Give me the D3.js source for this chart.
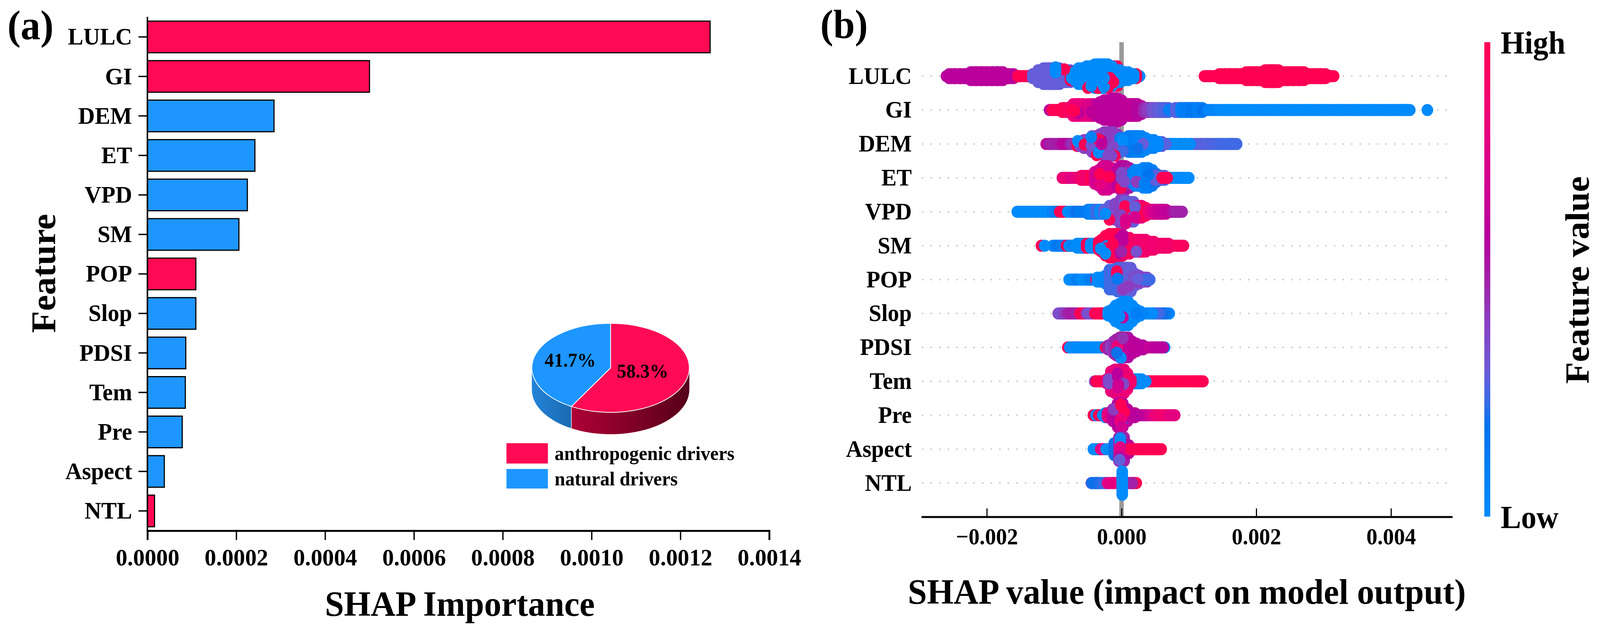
<!DOCTYPE html>
<html>
<head>
<meta charset="utf-8">
<script src="https://cdn.jsdelivr.net/npm/d3@7/dist/d3.min.js"></script>
<style>
html,body{margin:0;padding:0;background:#fff;width:100%;height:100%;overflow:hidden;}
#chart{width:100vw;height:100vh;}
svg{display:block;width:100%;height:100%;}
text{font-family:"Liberation Serif",serif;font-weight:700;fill:#000;}
</style>
</head>
<body>
<div id="chart"></div>
<script>
// ---------- DATA ----------
const features = ["LULC","GI","DEM","ET","VPD","SM","POP","Slop","PDSI","Tem","Pre","Aspect","NTL"];
const importance = [0.001267,0.0005,0.000285,0.000242,0.000225,0.000206,0.000109,0.000109,0.0000864,0.0000853,0.0000784,0.000038,0.000016];
const driverType = ["anthropogenic","anthropogenic","natural","natural","natural","natural","anthropogenic","natural","natural","natural","natural","natural","anthropogenic"];
const importanceTicks = [0,0.0002,0.0004,0.0006,0.0008,0.001,0.0012,0.0014];
const shapTicks = [-0.002,0,0.002,0.004];
const pieNames = ["anthropogenic drivers","natural drivers"];
const pieShares = [58.3,41.7];
const colorStops = [0,0.186,0.246,0.312,0.41,0.478,0.596,0.709,0.84,1];
const colorValues = ["#008bfb","#0073ee","#3c6ae6","#6e5ad6","#8a3fc2","#9c28ac","#b8009c","#d30090","#ec0078","#ff0054"];

// Beeswarm columns: [SHAP value, dots stacked either side of the row, feature value]
const swarmLULC = [[-.00256,0,.6],[-.00252,1,.6],[-.00244,1,.6],[-.00236,1,.6],[-.00228,1,.6],[-.0022,2,.6],[-.00212,2,.6],[-.00204,2,.6],[-.00196,2,.6],[-.00188,2,.6],[-.0018,2,.6],[-.00172,1,.6],[-.00164,1,.6],[-.00156,0,.6],[-.0015,0,1],[-.00135,0,.62],[-.00139,0,1],[-.00128,1,.3],[-.0012,3,.3],[-.00112,4,.3],[-.00104,4,.3],[-.00096,4,.3],[-.00088,3,.3],[-.0008,3,.3],[-.00072,2,1],[-.00068,2,1],[-.00015,5,1],[-.0001,5,1],[-.0007,1,0],[-.00066,2,0],[-.0006,4,0],[-.00054,4,0],[-.00048,5,0],[-.00042,5,0],[-.00036,6,0],[-.0003,6,0],[-.00024,6,0],[-.00018,5,0],[.00023,0,0],[.00018,1,1],[.00014,1,0],[.00006,2,0],[0,2,0],[-.00006,3,0],[-.00012,3,0],[.00311,0,1],[.00307,0,1],[.00299,1,1],[.00291,1,1],[.00283,1,1],[.00275,1,1],[.00267,2,1],[.00259,2,1],[.00251,2,1],[.00243,2,1],[.00235,2,1],[.00229,3,1],[.00223,3,1],[.00217,3,1],[.00211,2,1],[.00205,2,1],[.00197,2,1],[.00189,2,1],[.00181,1,1],[.00173,1,1],[.00165,1,1],[.00157,1,1],[.00149,1,1],[.00141,0,1],[.00133,0,1],[.00127,0,1]];
const dotsLULC = [[-.00085,-3.5,1],[-.00098,-4.5,0],[-.00098,-3.3,0],[-.00098,-2,0],[-.00022,2.5,1],[-.00012,3,1],[-.0005,6,1],[-.00035,6,1],[-.0002,6,1],[-.00045,5,0],[-.00026,5.5,0],[-.0003,3,0],[-.00033,-1,0],[-.00027,-5,0],[-.00035,-3,0],[-.00017,1,1],[-.00026,1,0]];
const swarmGI = [[-.00103,0,.6],[-.00099,0,1],[-.00092,0,1],[-.00084,1,1],[-.00076,1,.95],[-.00068,3,.85],[-.0006,3,.82],[-.00052,2,.85],[-.00046,3,.78],[-.0004,1,.85],[-.00034,3,.6],[-.00028,4,.6],[-.00022,5,.6],[-.00016,5,.6],[-.0001,6,.6],[-.00004,5,.6],[.00002,2,.6],[.00008,3,.62],[.00014,3,.62],[.0002,3,.62],[.00026,2,.58],[.00037,1,.48],[.00042,1,.42],[.0005,1,.33],[.00058,1,.3],[.00066,1,.27],[.00074,0,.1],[.00084,1,.28],[.00092,1,.1],[.001,1,.12],[.00108,1,.15],[.00116,1,.1],[.00124,0,.186],[.00132,0,.05],[.0014,0,.05],[.00424,0,0],[.0042,0,0],[.00412,0,0],[.00404,0,0],[.00396,0,0],[.00388,0,0],[.0038,0,0],[.00372,0,0],[.00364,0,0],[.00356,0,0],[.00348,0,0],[.0034,0,0],[.00332,0,0],[.00324,0,0],[.00316,0,0],[.00308,0,0],[.003,0,0],[.00292,0,0],[.00284,0,0],[.00276,0,0],[.00268,0,0],[.0026,0,0],[.00252,0,0],[.00244,0,0],[.00236,0,0],[.00228,0,0],[.0022,0,0],[.00212,0,0],[.00204,0,0],[.00196,0,0],[.00188,0,0],[.0018,0,0],[.00172,0,0],[.00164,0,0],[.00156,0,0],[.0015,0,0]];
const dotsGI = [[-.00052,-2,.75],[-.00064,1.5,.62],[-.00045,1,.62],[-.0007,.5,1],[-.00074,0,1],[.00454,0,0]];
const swarmDEM = [[-.00108,0,.62],[-.00104,0,.52],[-.00096,0,.5],[-.0009,0,.52],[-.00084,0,.6],[-.00078,0,.58],[-.00072,0,.48],[-.00068,0,.45],[-.00062,1,1],[-.00058,1,.4],[-.00052,2,.4],[-.00046,2,.4],[-.0004,4,.4],[-.00034,4,.4],[-.00028,5,.4],[-.00022,6,.42],[-.00016,6,.42],[-.0001,5,.42],[-.00005,3,.4],[.00002,3,.12],[.00008,3,.1],[.00014,4,.1],[.0002,4,.1],[.00026,4,.08],[.00032,3,.05],[.00038,2,.08],[.00044,2,.05],[.00167,0,.25],[.00163,0,.25],[.00155,0,.25],[.00147,0,.25],[.00139,0,.25],[.00131,0,.26],[.00123,0,.27],[.00115,0,.28],[.00107,0,.28],[.00098,0,0],[.0009,0,0],[.00082,0,0],[.00074,0,0],[.00068,0,0],[.00062,0,.28],[.00056,1,.28],[.0005,1,.03]];
const dotsDEM = [[-.00065,-1.5,0],[-.00055,.3,1],[-.00045,.7,.33],[-.00022,-2.3,.42],[-.0003,-1.7,.62],[-.00034,-2.3,1],[-.00012,1.7,.38],[.00002,-1.7,0],[-.00037,5.7,1],[-.00034,4.3,0],[-.0003,0,.62],[.00032,0,.3],[.00024,2.3,.2],[.0001,3.7,.15],[.00002,3.7,.25],[-.0002,6,.38],[-.0001,6,1],[-.00015,6,.38],[-.00045,-3.5,.08]];
const swarmET = [[-.00084,0,.85],[-.0008,0,.85],[-.00072,0,.78],[-.00064,0,.82],[-.00056,1,.9],[-.00048,1,.88],[-.00042,1,1],[-.00036,3,.72],[-.0003,4,.72],[-.00024,6,.72],[-.00018,5,.72],[-.00012,4,.72],[-.00003,4,.62],[.00002,6,.6],[.00008,5,.55],[.00013,3,.45],[.00018,2,.1],[.00024,4,.05],[.0003,4,.05],[.00036,5,.05],[.00042,4,.1],[.00048,2,.2],[.00054,1,.3],[.0006,1,.28],[.00092,0,.3],[.00086,0,.05],[.00078,0,0],[.0007,0,0],[.00096,0,0],[.00064,0,1]];
const dotsET = [[-.00031,2.9,.8],[-.00032,-2,1],[-.00001,5.2,1],[0,.2,.38],[0,-2.5,.38],[.00004,1.9,.38],[.00022,2,.42],[.0004,-1.5,.18],[.00034,2.9,.1],[-.00018,-.5,1]];
const swarmVPD = [[-.00151,0,0],[-.00147,0,0],[-.00139,0,0],[-.00131,0,0],[-.00123,0,0],[-.00115,0,0],[-.00107,0,0],[-.00099,0,.08],[-.00091,0,.12],[-.00088,0,1],[-.00076,0,0],[-.0007,0,.05],[-.00064,0,.2],[-.00058,0,.12],[-.00052,0,.15],[-.00046,1,.1],[-.0004,1,.05],[-.00034,1,.25],[-.00028,1,0],[-.00022,1,.3],[-.00014,3,.3],[-.00006,4,.38],[.00002,6,.4],[.00008,5,.32],[.00014,5,.3],[.0002,3,.3],[.00026,3,.8],[.00032,2,.95],[.00038,1,1],[.00044,1,.85],[.0005,1,.75],[.00056,1,.68],[.00062,1,.66],[.00068,0,.64],[.00074,0,.62],[.0008,0,.55],[.00086,0,.48],[.00084,0,.5]];
const dotsVPD = [[.00005,-2.8,1],[.00005,-1.5,1],[.0002,-2.5,.3],[-.00001,1.8,.4],[.0002,2.8,.72],[.00006,6,.75],[.00006,4,.75],[-.00018,4,1],[-.00024,1,0]];
const swarmSM = [[-.00098,0,.05],[-.00092,0,.15],[-.00086,0,.12],[-.0008,0,.1],[-.00078,0,1],[-.00074,0,0],[-.00068,0,.05],[-.00062,1,0],[-.00056,1,0],[-.00048,1,1],[-.00042,1,0],[-.00036,1,0],[-.0003,2,1],[-.00026,3,1],[-.0002,5,1],[-.00014,6,1],[-.00008,6,1],[-.00002,5,1],[.00002,4,.62],[.00008,4,.9],[.00014,3,1],[.0002,3,.95],[.00026,3,.9],[.00032,3,.9],[.00038,2,.88],[.00044,2,.9],[.0005,1,.88],[.00058,1,.88],[.00066,1,.9],[.00074,0,.9],[.00082,0,.9],[.00088,0,.95]];
const dotsSM = [[-.00119,0,1],[-.00114,0,0],[-.00022,.2,0],[-.00024,1.5,1],[-.00031,1.5,0],[-.00024,4,0],[.00002,-2.5,.62],[.00002,-5.5,.62],[0,3,.5],[.00022,3,.35],[-.00013,-1,1]];
const swarmPOP = [[-.00074,0,0],[-.0007,0,0],[-.00063,0,.1],[-.00056,0,0],[-.0005,0,0],[-.00044,0,.1],[-.00038,0,.12],[-.00034,0,1],[-.00032,1,0],[-.00026,1,0],[-.0002,2,.05],[-.00014,5,.25],[-.00008,5,.25],[-.00002,6,.25],[.00004,6,.28],[.0001,6,.3],[.00016,3,.3],[.00022,2,.35],[.00028,1,.42],[.00034,1,.4],[.00038,0,.25]];
const dotsPOP = [[-.00007,-4.2,1],[-.00007,-3,1],[-.00006,-.5,.15],[.0001,3.5,.42],[.00024,-.5,.3],[.00002,5,.42]];
const swarmSlop = [[-.0009,0,.42],[-.00088,0,.35],[-.00082,0,.42],[-.00076,0,.5],[-.0007,0,.52],[-.00064,0,.5],[-.00058,0,1],[-.00052,0,1],[-.00048,0,.38],[-.00044,0,.35],[-.00036,0,1],[-.0003,0,1],[-.00026,0,1],[-.00016,1,0],[-.0001,2,0],[-.00005,4,0],[.00001,5,0],[.00006,6,0],[.00012,4,0],[.00018,2,0],[.00024,1,0],[.00067,0,0],[.00064,0,.1],[.00058,0,.2],[.00052,0,.25],[.00046,0,.25],[.00042,0,0],[.00036,0,0],[.00028,0,.05]];
const dotsSlop = [[.00002,2,.62],[-.00003,1.5,0],[.00022,0,.1]];
const swarmPDSI = [[-.00076,0,1],[-.00066,0,1],[-.00073,0,0],[-.00062,0,0],[-.00056,0,0],[-.0005,0,0],[-.00044,0,0],[-.00038,0,0],[-.00032,0,0],[-.00026,0,0],[-.0002,0,1],[-.00016,1,.5],[-.00012,1,.4],[-.00008,3,.45],[-.00004,4,.5],[.00001,5,.5],[.00006,5,.55],[.00012,3,.6],[.00018,2,.6],[.00024,1,.6],[.00028,1,.6],[.00036,0,0],[.00034,0,.6],[.00044,0,.65],[.00055,0,0],[.0005,0,.62],[.0006,0,0],[.00058,0,.6]];
const dotsPDSI = [[-.00006,-.7,.85],[-.00006,.7,.85],[.00002,-4.7,.45],[-.00001,5.3,0],[-.00007,2.7,.2],[.00012,0,.62]];
const swarmTem = [[.00117,0,1],[.00113,0,1],[.00105,0,1],[.00097,0,1],[.00089,0,1],[.00081,0,1],[.00073,0,1],[.00065,0,1],[.00057,0,1],[.00049,0,1],[.00041,0,1],[.00035,0,1],[.00032,0,0],[.00026,1,0],[.0002,1,0],[.00014,1,0],[-.00036,0,.38],[-.00034,0,1],[-.00028,0,1],[-.00022,0,1],[-.00018,1,.8],[-.00012,5,.85],[-.00006,6,.8],[0,6,.82],[.00005,4,.85],[.0001,1,.9]];
const dotsTem = [[-.00019,-1,.36],[-.00019,0,.36],[-.00019,1,.36],[-.00006,-4,.6],[-.00006,-2.5,.6],[.00003,1.3,.38],[-.00005,1.6,.65],[-.00005,3,.7]];
const swarmPre = [[-.00038,0,1],[-.00034,0,0],[-.0003,0,1],[-.00024,0,0],[-.0002,1,.05],[-.00017,1,.8],[-.00009,3,.62],[-.00002,6,.6],[.00005,3,.62],[.0001,1,0],[.00016,1,.62],[.0002,0,.62],[.00026,0,.6],[.00032,0,.58],[.00038,0,.62],[.00046,0,.72],[.00054,0,.85],[.00062,0,.88],[.0007,0,.88],[.00075,0,.8]];
const dotsPre = [[-.00009,-3.1,.42],[-.00012,-3,.42],[-.00001,-5.5,1],[-.00001,-5,1],[.00004,-1.5,1],[-.00002,3.2,.85],[-.00001,2,.85],[0,6,.7]];
const swarmAspect = [[-.00038,0,0],[-.00036,0,0],[-.00027,0,.78],[-.00019,0,0],[-.00013,0,0],[-.00007,3,.2],[0,6,.5],[.00007,2,.6],[.00016,0,1],[.00022,0,1],[.00028,0,1],[.00034,0,1],[.0004,0,1],[.00046,0,1],[.00052,0,1],[.00055,0,1]];
const dotsAspect = [[-.00002,-5.5,0],[-.00002,-4,0],[-.00002,-1,.78],[-.00002,1,.78],[-.00003,4,.62],[-.00003,5.5,.3]];
const swarmNTL = [[-.00041,0,.35],[-.0004,0,.2],[-.00034,0,.2],[-.00028,0,.22],[-.00022,0,.25],[-.00017,0,.78],[-.0001,0,.8],[.00018,0,1],[.00015,0,1],[.00012,0,.5]];
const dotsNTL = [[.00001,-6,0],[.00001,-5,0],[.00001,-4,0],[.00001,-3,0],[.00001,-2,0],[.00001,-1,0],[.00001,0,0],[.00001,1,0],[.00001,2,0],[.00001,3,0],[.00001,4,0],[.00001,5,0],[.00001,6,0]];
const swarmByFeature = [swarmLULC,swarmGI,swarmDEM,swarmET,swarmVPD,swarmSM,swarmPOP,swarmSlop,swarmPDSI,swarmTem,swarmPre,swarmAspect,swarmNTL];
const dotsByFeature = [dotsLULC,dotsGI,dotsDEM,dotsET,dotsVPD,dotsSM,dotsPOP,dotsSlop,dotsPDSI,dotsTem,dotsPre,dotsAspect,dotsNTL];

// ---------- STYLE ----------
const RED = "#FF0A54", BLUE = "#1E96FF";
const W = 4287, H = 1621;
// The artboard always fills the browser window, whatever width the window really has.
const svg = d3.select("#chart").append("svg").attr("viewBox",`0 0 ${W} ${H}`).attr("preserveAspectRatio","none");
svg.append("rect").attr("width",W).attr("height",H).attr("fill","#fff");
const defs = svg.append("defs");
function addGrad(id, c0, c1){
  const g = defs.append("linearGradient").attr("id",id);
  g.append("stop").attr("offset","0%").attr("stop-color",c0);
  g.append("stop").attr("offset","100%").attr("stop-color",c1);
}
addGrad("sideRed","#AE0036","#55001C");
addGrad("sideBlue","#2483D8","#196AB2");

function label(t,x,y,size,anchor,rot){
  const e = svg.append("text").text(t).attr("font-size",size).attr("text-anchor",anchor||"start");
  if(rot!==undefined) e.attr("transform",`translate(${x},${y}) rotate(${rot})`);
  else e.attr("x",x).attr("y",y);
  return e;
}

// ---------- PANEL A ----------
const xA = d3.scaleLinear().domain([0,0.0014]).range([395,2061]);
const yA = d3.scaleBand().domain(features).range([44,1359]).paddingInner(0.2).paddingOuter(0.1);
const pa = svg.append("g");
pa.selectAll("rect").data(features).join("rect")
  .attr("x",xA(0)).attr("y",d=>yA(d))
  .attr("width",(d,i)=>xA(importance[i])-xA(0)).attr("height",yA.bandwidth())
  .attr("fill",(d,i)=>driverType[i]==="anthropogenic"?RED:BLUE)
  .attr("stroke","#000").attr("stroke-width",3);

const axA = pa.append("g").attr("transform","translate(0,1359)")
  .call(d3.axisBottom(xA).tickValues(importanceTicks).tickFormat(d3.format(".4f")).tickSize(24).tickPadding(0));
axA.select(".domain").attr("stroke","#000").attr("stroke-width",5);
axA.selectAll(".tick line").attr("stroke","#000").attr("stroke-width",3.5);
axA.selectAll(".tick text").attr("font-size",62).attr("y",89).attr("dy",0);

const ayA = pa.append("g").attr("transform","translate(395,0)")
  .call(d3.axisLeft(yA).tickSize(24).tickPadding(17));
ayA.select(".domain").attr("stroke","#000").attr("stroke-width",4).attr("d","M0,43V1361");
ayA.selectAll(".tick line").attr("stroke","#000").attr("stroke-width",3.5);
ayA.selectAll(".tick text").attr("font-size",62).attr("dy","0.32em");

label("(a)",20,100,106);
label("Feature",148,700,92,"middle",-90);
label("SHAP Importance",1232,1577,92,"middle");

// Pie (drawn as a flattened d3 pie with a wall along the front edge)
const cx=1636, cy=942, rx=211, ry=114, depth=56;
const pieArcs = d3.pie().sort(null)(pieShares);
const pieG = svg.append("g");
const ptOf = (a,dy)=>[cx+rx*Math.sin(a), cy-ry*Math.cos(a)+(dy||0)];
function wallPath(a0,a1){
  const from=Math.max(a0,Math.PI/2), to=Math.min(a1,Math.PI*1.5);
  const [x0,y0]=ptOf(from),[x1,y1]=ptOf(to),[x2,y2]=ptOf(to,depth),[x3,y3]=ptOf(from,depth);
  return `M${x0},${y0}A${rx},${ry} 0 0 1 ${x1},${y1}L${x2},${y2}A${rx},${ry} 0 0 0 ${x3},${y3}Z`;
}
pieG.selectAll("path.wall").data(pieArcs).join("path").attr("class","wall")
  .attr("d",d=>wallPath(d.startAngle,d.endAngle))
  .attr("fill",(d,i)=>i===0?"url(#sideRed)":"url(#sideBlue)");
const arcGen = d3.arc().innerRadius(0).outerRadius(rx);
pieG.selectAll("path.top").data(pieArcs).join("path").attr("class","top")
  .attr("transform",`translate(${cx},${cy}) scale(1,${ry/rx})`)
  .attr("d",arcGen)
  .attr("fill",(d,i)=>i===0?RED:BLUE)
  .attr("stroke","#fff").attr("stroke-width",2).attr("vector-effect","non-scaling-stroke");
const [sx,sy]=ptOf(pieArcs[1].startAngle);
pieG.append("line").attr("x1",sx).attr("y1",sy).attr("x2",sx).attr("y2",sy+depth).attr("stroke","#fff").attr("stroke-width",1.5);
label(d3.format(".1f")(pieShares[0])+"%",1722,967,50,"middle");
label(d3.format(".1f")(pieShares[1])+"%",1528,939,50,"middle");

// Legend
const legendY=[1135,1201], legendH=[52,50], legendBase=[1178,1243];
pieNames.forEach((n,i)=>{
  svg.append("rect").attr("x",1357).attr("y",legendY[i]).attr("width",111).attr("height",legendH[i]).attr("fill",i===0?RED:BLUE);
  label(n,1486,legendBase[i],51);
});

// ---------- PANEL B ----------
const xB = d3.scaleLinear().domain([-0.00297,0.004914]).range([2469,3892]);
const yB = d3.scalePoint().domain(features).range([195,1237]);
const colorScale = d3.scaleLinear().domain(colorStops).range(colorValues);
const pb = svg.append("g");

// row guide dots
pb.selectAll("line.guide").data(features).join("line").attr("class","guide")
  .attr("x1",2470).attr("x2",3886).attr("y1",d=>yB(d)).attr("y2",d=>yB(d))
  .attr("stroke","#cccccc").attr("stroke-width",4).attr("stroke-dasharray","4 19");
// zero line
pb.append("line").attr("x1",xB(0)).attr("x2",xB(0)).attr("y1",108).attr("y2",1324)
  .attr("stroke","#999999").attr("stroke-width",12);

const R = 15.5, laneGap = 5, colSpread = 7;
features.forEach((f,i)=>{
  const marks = [];
  swarmByFeature[i].forEach(([v,n,c])=>{
    [-colSpread,colSpread,0].forEach(dx=>{
      for(let k=n;k>=0;k--){
        marks.push([v,k,c,dx]);
        if(k>0) marks.push([v,-k,c,dx]);
      }
    });
  });
  dotsByFeature[i].forEach(d=>marks.push([d[0],d[1],d[2],0]));
  pb.append("g").selectAll("circle").data(marks).join("circle")
    .attr("cx",d=>xB(d[0])+d[3]).attr("cy",d=>yB(f)+d[1]*laneGap).attr("r",R)
    .attr("fill",d=>colorScale(d[2]));
});

const axB = pb.append("g").attr("transform","translate(0,1324)")
  .call(d3.axisTop(xB).tickValues(shapTicks).tickFormat(d3.format(".3f")).tickSize(22).tickPadding(0));
axB.select(".domain").attr("stroke","#000").attr("stroke-width",5).attr("d","M2469,0H3892");
axB.selectAll(".tick line").attr("stroke","#000").attr("stroke-width",3);
axB.selectAll(".tick text").attr("font-size",59).attr("y",70).attr("dy",0).attr("text-anchor","middle");

const ayB = pb.append("g").attr("transform","translate(2443,0)");
ayB.selectAll("text").data(features).join("text")
  .attr("x",0).attr("y",d=>yB(d)).attr("dy","0.32em").attr("text-anchor","end").attr("font-size",61).text(d=>d);

label("(b)",2198,97,104);
label("SHAP value (impact on model output)",3180,1546,92,"middle");

// Colour bar
const cbY = d3.scaleLinear().domain([0,1]).range([1323,108]);
const cbG = defs.append("linearGradient").attr("id","cbar").attr("x1",0).attr("y1",1).attr("x2",0).attr("y2",0);
colorStops.forEach((s,i)=>cbG.append("stop").attr("offset",s).attr("stop-color",colorValues[i]));
svg.append("rect").attr("x",3977).attr("y",cbY(1)).attr("width",16).attr("height",cbY(0)-cbY(1)).attr("fill","url(#cbar)");
label("High",4021,137,82);
label("Low",4021,1352,82);
label("Feature value",4257,717,91,"middle",-90);
</script>
</body>
</html>
